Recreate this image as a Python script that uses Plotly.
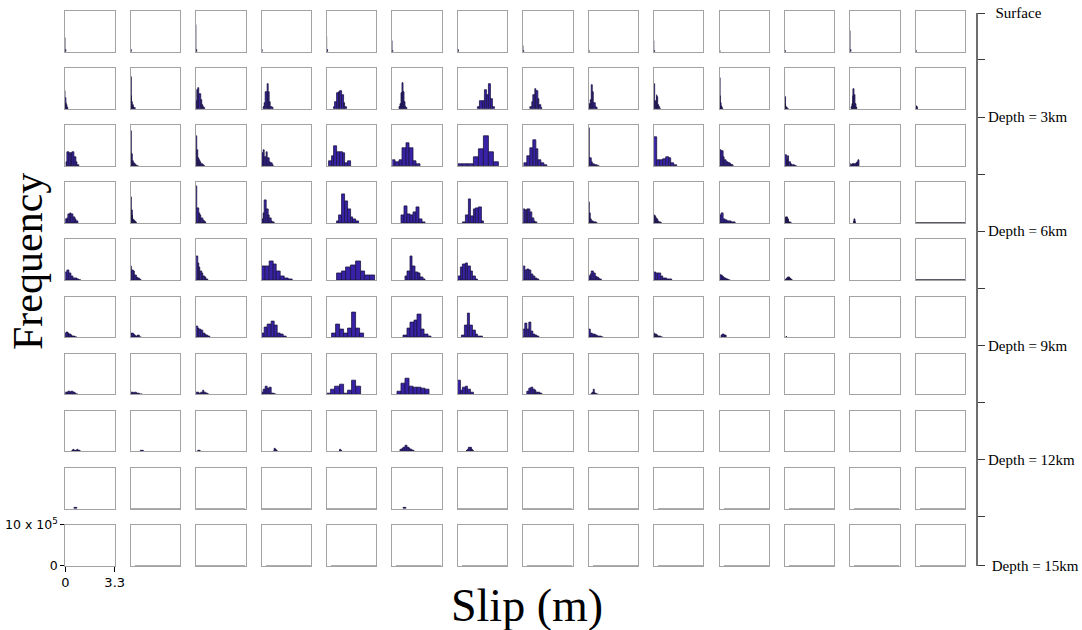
import plotly.graph_objects as go

# ---- slip histograms: one list per depth row, 14 along-strike cells each ----
# each cell: (slip_min_m, slip_max_m, bin counts in units of 1e5) or None
row0 = [
    (0.0, 0.04, [3.3, 0.3]), (0.0, 0.04, [4.1, 0.4]), (0.0, 0.04, [6.6, 0.5]),
    (0.0, 0.04, [6.3, 0.5]), (0.0, 0.04, [3.5, 0.3]), (0.0, 0.04, [2.7, 0.2]),
    (0.0, 0.04, [3.0, 0.3]), (0.0, 0.04, [1.5, 0.1]), (0.0, 0.04, [2.2, 0.2]),
    (0.0, 0.04, [2.7, 0.2]), (0.0, 0.04, [2.7, 0.2]), (0.0, 0.04, [1.5, 0.1]),
    (0.0, 0.04, [5.0, 0.3]), (0.0, 0.04, [2.5, 0.2]),
]
row1 = [
    (0.0, 0.22, [4.3, 2.6, 1.4, 0.8, 0.4, 0.2, 0.1, 0.05]),
    (0.0, 0.36, [7.8, 3.2, 1.6, 0.9, 0.5, 0.2, 0.1, 0.05]),
    (0.0, 0.62, [1.8, 4.6, 5.2, 3.7, 2.2, 1.0, 0.4, 0.1]),
    (0.13, 0.80, [0.3, 1.4, 4.2, 6.1, 4.0, 1.6, 0.5, 0.1]),
    (0.45, 1.34, [0.3, 1.6, 3.8, 4.2, 4.3, 3.4, 1.4, 0.3]),
    (0.45, 0.98, [0.3, 1.2, 3.8, 6.4, 4.0, 1.6, 0.5, 0.1]),
    (1.36, 2.47, [0.3, 1.8, 2.0, 4.5, 3.3, 6.1, 2.5, 0.3]),
    (0.49, 1.27, [0.3, 1.6, 3.4, 4.8, 4.3, 2.4, 0.8, 0.1]),
    (0.0, 0.58, [0.6, 1.2, 2.2, 5.9, 4.0, 1.4, 0.4, 0.1]),
    (0.0, 0.45, [6.0, 2.0, 1.6, 3.3, 2.8, 1.0, 0.3, 0.05]),
    (0.0, 0.27, [7.5, 3.2, 1.4, 0.7, 0.3, 0.15, 0.05, 0.02]),
    (0.0, 0.25, [9.0, 2.8, 1.1, 0.5, 0.25, 0.1, 0.05, 0.02]),
    (0.09, 0.47, [0.3, 1.2, 3.0, 4.8, 3.4, 1.2, 0.3, 0.1]),
    (0.0, 0.16, [0.7, 0.5, 0.3, 0.1]),
]
row2 = [
    (0.04, 0.94, [1.0, 3.3, 3.1, 3.0, 3.3, 2.2, 0.8, 0.2]),
    (0.0, 0.54, [8.5, 2.8, 1.1, 0.6, 0.3, 0.15, 0.05, 0.02]),
    (0.0, 0.58, [7.4, 3.8, 1.9, 1.3, 0.8, 0.4, 0.2, 0.05]),
    (0.0, 0.83, [3.0, 3.9, 2.2, 3.3, 2.0, 1.0, 0.6, 0.2]),
    (0.12, 1.60, [1.1, 2.3, 4.8, 3.3, 3.3, 3.0, 0.7, 1.2]),
    (0.0, 1.85, [1.5, 0.8, 1.5, 4.4, 5.5, 4.4, 1.1, 0.5]),
    (0.0, 2.77, [0.4, 0.4, 0.5, 2.1, 4.0, 7.4, 3.3, 0.9]),
    (0.07, 1.60, [0.6, 2.5, 4.4, 6.2, 4.1, 1.4, 0.7, 0.2]),
    (0.0, 0.76, [9.2, 1.9, 0.9, 0.5, 0.25, 0.1, 0.05, 0.02]),
    (0.0, 1.55, [7.0, 1.3, 1.3, 1.6, 2.2, 1.8, 0.6, 0.2]),
    (0.0, 0.94, [3.9, 3.6, 2.2, 1.4, 0.9, 0.6, 0.3, 0.1]),
    (0.0, 0.80, [2.6, 1.4, 2.5, 1.0, 0.4, 0.2, 0.1, 0.05]),
    (0.0, 0.60, [0.3, 0.2, 0.3, 0.4, 0.5, 0.7, 1.0, 1.4]),
    None,
]
row3 = [
    (0.0, 0.85, [0.8, 1.2, 2.2, 2.5, 2.2, 1.5, 0.8, 0.3]),
    (0.0, 0.42, [6.4, 3.0, 1.8, 1.0, 0.6, 0.3, 0.1, 0.05]),
    (0.0, 0.70, [8.9, 3.5, 2.5, 2.0, 1.2, 0.6, 0.3, 0.1]),
    (0.0, 0.87, [0.8, 2.5, 5.6, 3.3, 1.8, 1.2, 0.5, 0.2]),
    (0.64, 2.13, [0.4, 1.8, 7.0, 5.4, 3.3, 1.5, 0.8, 0.3]),
    (0.57, 2.18, [1.9, 4.0, 2.2, 1.8, 2.7, 3.8, 0.8, 0.25]),
    (0.36, 1.76, [0.15, 1.8, 5.9, 1.6, 3.3, 3.6, 3.9, 0.4]),
    (0.0, 0.94, [3.4, 3.0, 3.4, 3.3, 2.6, 1.2, 0.4, 0.1]),
    (0.0, 0.58, [5.0, 2.5, 1.0, 0.5, 0.3, 0.15, 0.08, 0.03]),
    (0.0, 0.51, [1.9, 1.7, 1.2, 0.8, 0.4, 0.2, 0.1, 0.05]),
    (0.0, 1.05, [2.0, 2.3, 1.0, 0.6, 0.4, 0.3, 0.2, 0.1]),
    (0.0, 0.47, [1.2, 1.5, 1.4, 0.9, 0.4, 0.2, 0.1, 0.05]),
    (0.27, 0.36, [0.1, 0.3, 0.8, 0.5, 0.2, 0.05]),
    (0.0, 3.3, [0.04, 0.03, 0.03, 0.02, 0.03, 0.02, 0.02, 0.03]),
]
row4 = [
    (0.0, 1.10, [1.8, 2.5, 1.6, 0.8, 0.5, 0.3, 0.15, 0.05]),
    (0.0, 0.76, [3.3, 2.5, 2.2, 1.2, 0.6, 0.3, 0.15, 0.05]),
    (0.0, 0.80, [5.9, 4.1, 3.0, 2.2, 1.6, 1.0, 0.6, 0.2]),
    (0.0, 2.07, [3.3, 3.3, 4.7, 3.9, 2.2, 1.0, 0.3, 0.2]),
    (0.65, 3.20, [1.6, 2.2, 3.0, 3.6, 4.7, 2.2, 1.1, 1.1]),
    (0.85, 2.23, [1.0, 2.2, 5.9, 3.3, 1.8, 1.6, 0.6, 0.2]),
    (0.0, 1.36, [1.0, 3.0, 3.9, 4.1, 3.4, 2.2, 0.8, 0.2]),
    (0.0, 1.05, [3.3, 2.5, 2.6, 2.5, 1.4, 0.8, 0.4, 0.2]),
    (0.0, 0.87, [1.0, 1.4, 2.2, 1.6, 1.0, 0.6, 0.3, 0.1]),
    (0.0, 1.18, [2.0, 1.6, 1.6, 0.8, 0.4, 0.3, 0.2, 0.1]),
    (0.0, 0.71, [1.4, 1.2, 1.0, 0.6, 0.4, 0.2, 0.1, 0.05]),
    (0.07, 0.54, [0.1, 0.3, 0.6, 0.7, 0.5, 0.3, 0.1, 0.05]),
    None,
    (0.0, 3.3, [0.03, 0.04, 0.02, 0.03, 0.03, 0.02, 0.03, 0.02]),
]
row5 = [
    (0.0, 0.78, [0.8, 1.2, 0.9, 0.7, 0.3, 0.2, 0.1, 0.05]),
    (0.0, 0.71, [1.0, 0.8, 0.6, 0.3, 0.25, 0.5, 0.3, 0.05]),
    (0.0, 0.91, [2.6, 2.2, 2.0, 1.6, 1.0, 0.6, 0.3, 0.1]),
    (0.0, 1.70, [0.8, 2.3, 3.0, 3.9, 2.9, 1.0, 0.7, 0.2]),
    (0.31, 2.50, [1.0, 3.0, 1.8, 1.0, 2.2, 6.1, 2.2, 0.8]),
    (0.75, 2.62, [0.3, 2.2, 3.7, 4.1, 5.5, 2.0, 0.6, 0.2]),
    (0.29, 1.70, [0.4, 2.9, 5.9, 2.9, 1.6, 0.7, 0.25, 0.25]),
    (0.0, 1.05, [1.8, 3.3, 1.8, 3.5, 1.5, 0.6, 0.4, 0.2]),
    (0.0, 0.98, [1.8, 1.0, 0.6, 0.7, 0.4, 0.25, 0.15, 0.05]),
    (0.0, 0.58, [0.8, 0.7, 0.6, 0.4, 0.25, 0.15, 0.05, 0.02]),
    (0.16, 0.45, [0.3, 0.6, 0.5, 0.3]),
    (0.05, 0.15, [0.05, 0.1]),
    (0.0, 3.3, [0.02, 0.03, 0.02, 0.02, 0.03, 0.02, 0.02, 0.02]),
    (0.5, 3.3, [0.04, 0.03, 0.03, 0.04, 0.03, 0.03, 0.02, 0.03]),
]
row6 = [
    (0.0, 0.85, [0.3, 0.5, 0.6, 0.4, 0.6, 0.4, 0.2, 0.05]),
    (0.0, 0.80, [0.3, 0.3, 0.2, 0.3, 0.2, 0.1, 0.05, 0.02]),
    (0.0, 0.90, [0.3, 0.3, 0.2, 0.4, 0.8, 0.5, 0.2, 0.05]),
    (0.0, 1.03, [0.3, 1.1, 1.8, 1.3, 1.6, 0.2, 0.1, 0.05]),
    (0.0, 2.24, [0.25, 1.1, 2.0, 2.3, 0.25, 0.9, 3.3, 2.0]),
    (0.31, 2.46, [0.65, 2.7, 3.8, 2.0, 1.7, 1.6, 1.4, 1.1]),
    (0.0, 1.05, [3.4, 1.0, 1.6, 2.0, 1.2, 0.3]),
    (0.27, 1.27, [0.6, 1.4, 1.6, 1.1, 0.8, 0.5, 0.3, 0.1]),
    (0.2, 0.65, [0.2, 0.4, 1.1, 0.4, 0.2, 0.1, 0.05, 0.02]),
    (0.0, 0.10, [0.05, 0.03]),
    (0.0, 0.70, [0.04, 0.05, 0.04, 0.03]),
    None,
    None,
    None,
]
row7 = [
    (0.45, 1.10, [0.15, 0.3, 0.25, 0.2, 0.3, 0.2, 0.1, 0.05]),
    (0.70, 0.90, [0.1, 0.15, 0.1, 0.05]),
    (0.15, 0.35, [0.1, 0.25, 0.15, 0.05]),
    (0.85, 1.05, [0.2, 0.7, 0.3, 0.1]),
    (0.85, 1.00, [0.2, 0.5, 0.2]),
    (0.53, 1.47, [0.3, 0.6, 0.9, 1.5, 0.8, 0.6, 0.3, 0.1]),
    (0.58, 1.10, [0.2, 0.5, 1.0, 0.8, 0.3, 0.1]),
    None,
    (0.0, 3.3, [0.02, 0.02, 0.03, 0.02, 0.02, 0.02, 0.02, 0.02]),
    (0.0, 3.3, [0.03, 0.02, 0.02, 0.02, 0.03, 0.02, 0.02, 0.02]),
    (0.0, 3.3, [0.02, 0.02, 0.02, 0.03, 0.02, 0.02, 0.02, 0.02]),
    (0.3, 3.3, [0.03, 0.03, 0.02, 0.02, 0.02, 0.03, 0.02, 0.02]),
    (0.0, 3.3, [0.02, 0.03, 0.02, 0.02, 0.02, 0.02, 0.03, 0.02]),
    (0.0, 3.3, [0.02, 0.02, 0.02, 0.02, 0.02, 0.02, 0.02, 0.03]),
]
row8 = [
    (0.60, 0.80, [0.1, 0.2, 0.1]),
    (0.0, 3.3, [0.02, 0.02, 0.03, 0.02, 0.02, 0.02, 0.02, 0.02]),
    (0.0, 3.3, [0.02, 0.03, 0.02, 0.02, 0.02, 0.02, 0.02, 0.02]),
    (0.0, 3.3, [0.02, 0.02, 0.02, 0.02, 0.03, 0.02, 0.02, 0.02]),
    (0.0, 3.3, [0.02, 0.02, 0.02, 0.02, 0.02, 0.02, 0.03, 0.02]),
    (0.75, 0.95, [0.1, 0.25, 0.1]),
    (0.0, 3.3, [0.02, 0.02, 0.02, 0.03, 0.02, 0.02, 0.02, 0.02]),
    (0.0, 3.3, [0.02, 0.02, 0.02, 0.02, 0.02, 0.03, 0.02, 0.02]),
    (0.0, 3.3, [0.03, 0.02, 0.02, 0.02, 0.02, 0.02, 0.02, 0.02]),
    (0.3, 3.3, [0.02, 0.02, 0.02, 0.02, 0.02, 0.02, 0.02, 0.03]),
    (0.3, 3.3, [0.02, 0.03, 0.02, 0.02, 0.02, 0.02, 0.02, 0.02]),
    (0.3, 3.3, [0.02, 0.02, 0.03, 0.02, 0.02, 0.02, 0.02, 0.02]),
    (0.3, 3.3, [0.02, 0.02, 0.02, 0.02, 0.03, 0.02, 0.02, 0.02]),
    (0.3, 3.3, [0.02, 0.02, 0.02, 0.02, 0.02, 0.03, 0.02, 0.02]),
]
row9 = [
    None,
    (0.3, 3.3, [0.02, 0.02, 0.02, 0.03, 0.02, 0.02, 0.02, 0.02]),
    (0.0, 3.3, [0.02, 0.02, 0.03, 0.02, 0.02, 0.02, 0.02, 0.02]),
    (0.3, 3.3, [0.02, 0.02, 0.02, 0.02, 0.02, 0.03, 0.02, 0.02]),
    (0.3, 3.3, [0.02, 0.03, 0.02, 0.02, 0.02, 0.02, 0.02, 0.02]),
    (0.3, 3.3, [0.02, 0.02, 0.02, 0.02, 0.03, 0.02, 0.02, 0.02]),
    (0.3, 3.3, [0.03, 0.02, 0.02, 0.02, 0.02, 0.02, 0.02, 0.02]),
    (0.3, 3.3, [0.02, 0.02, 0.02, 0.02, 0.02, 0.02, 0.03, 0.02]),
    (0.3, 3.3, [0.02, 0.02, 0.03, 0.02, 0.02, 0.02, 0.02, 0.02]),
    (0.3, 3.3, [0.02, 0.02, 0.02, 0.03, 0.02, 0.02, 0.02, 0.02]),
    (0.3, 3.3, [0.02, 0.02, 0.02, 0.02, 0.02, 0.02, 0.02, 0.03]),
    (0.3, 3.3, [0.02, 0.03, 0.02, 0.02, 0.02, 0.02, 0.02, 0.02]),
    (0.3, 3.3, [0.02, 0.02, 0.02, 0.02, 0.03, 0.02, 0.02, 0.02]),
    (0.3, 3.3, [0.02, 0.02, 0.02, 0.02, 0.02, 0.03, 0.02, 0.02]),
]
depth_rows = [row0, row1, row2, row3, row4, row5, row6, row7, row8, row9]

depth_labels = ["\u00a0\u00a0Surface", "Depth = 3km", "Depth = 6km",
                "Depth = 9km", "Depth = 12km", "\u00a0Depth = 15km"]
slip_tick_labels = ["0", "3.3"]
freq_tick_labels = ["0", "10 x 10<sup>5</sup>"]

SLIP_MAX = 3.3      # m
FREQ_MAX = 10       # x 1e5

# ---- page geometry (pixels) ----
W, H = 1082, 630
X0, DX, CW = 65.3, 65.42, 49.4
Y0, DY, CH = 11.0, 57.1, 40.7
N_COLS = 14

FILL = "#3a22a8"
EDGE = "#1b1640"
FLOOR = "#5a5a66"
FRAME = "#a3a3a3"

fig = go.Figure()
layout = {}

for r, row in enumerate(depth_rows):
    for c, cell in enumerate(row):
        k = r * N_COLS + c + 1
        sfx = "" if k == 1 else str(k)
        xa, ya = "x" + sfx, "y" + sfx
        left = X0 + c * DX
        top = Y0 + r * DY
        corner = (r == len(depth_rows) - 1 and c == 0)

        xaxis = dict(domain=[left / W, (left + CW) / W], range=[0, SLIP_MAX],
                     anchor=ya, showline=True, mirror=True, linecolor=FRAME,
                     linewidth=1, showgrid=False, zeroline=False, automargin=False,
                     showticklabels=False, ticks="", fixedrange=True)
        yaxis = dict(domain=[1 - (top + CH) / H, 1 - top / H], range=[0, FREQ_MAX],
                     anchor=xa, showline=True, mirror=True, linecolor=FRAME,
                     linewidth=1, showgrid=False, zeroline=False, automargin=False,
                     showticklabels=False, ticks="", fixedrange=True)
        if corner:
            xaxis.update(tickmode="array", tickvals=[0, SLIP_MAX],
                         ticktext=slip_tick_labels, showticklabels=True,
                         ticks="outside", ticklen=5, tickcolor="#000",
                         tickfont=dict(family="DejaVu Sans", size=13, color="#000"))
            yaxis.update(tickmode="array", tickvals=[0, FREQ_MAX],
                         ticktext=freq_tick_labels, showticklabels=True,
                         ticks="outside", ticklen=4, tickcolor="#000",
                         tickfont=dict(family="DejaVu Sans", size=12.5, color="#000"))
        layout["xaxis" + sfx] = xaxis
        layout["yaxis" + sfx] = yaxis

        if cell is None:
            fig.add_trace(go.Scatter(x=[None], y=[None], xaxis=xa, yaxis=ya,
                                     showlegend=False, hoverinfo="skip"))
            continue
        lo, hi, counts = cell
        w = (hi - lo) / len(counts)
        centers = [lo + (i + 0.5) * w for i in range(len(counts))]
        # near-empty histograms only show as a dark floor line
        flat = max(counts) < 0.1
        marker = (dict(color=FLOOR, line=dict(width=0)) if flat else
                  dict(color=FILL, line=dict(color=EDGE, width=0.8)))
        fig.add_trace(go.Bar(x=centers, y=counts, width=w, xaxis=xa, yaxis=ya,
                             marker=marker, showlegend=False, hoverinfo="skip"))

# ---- depth scale on the right: labelled ticks plus ticks between the rows ----
n_rows = len(depth_rows)
depth_top = 13.0
depth_bottom = Y0 + (n_rows - 1) * DY + CH
gap_pos = [Y0 + i * DY + CH + (DY - CH) / 2 for i in range(n_rows - 1)]
label_pos = [depth_top] + gap_pos[1::2] + [depth_bottom]
minor_pos = gap_pos[0::2]
kd = len(depth_rows) * N_COLS + 1
AXIS_X = 976.0
layout["xaxis%d" % kd] = dict(domain=[(AXIS_X - 2) / W, AXIS_X / W], range=[0, 1],
                              anchor="y%d" % kd, visible=False, fixedrange=True,
                              automargin=False)
layout["yaxis%d" % kd] = dict(domain=[1 - depth_bottom / H, 1 - depth_top / H],
                              range=[depth_bottom, depth_top], anchor="x%d" % kd,
                              side="right", showline=True, linecolor="#6e6e6e",
                              linewidth=2, showgrid=False, zeroline=False,
                              automargin=False,
                              tickmode="array", tickvals=label_pos, ticktext=depth_labels,
                              ticks="outside", ticklen=7, tickwidth=1.3,
                              tickcolor="#3a3a3a", fixedrange=True,
                              minor=dict(tickvals=minor_pos, ticks="outside", ticklen=7,
                                         tickwidth=1.3, tickcolor="#3a3a3a"),
                              tickfont=dict(family="Liberation Serif", size=15, color="#000"))
fig.add_trace(go.Scatter(x=[None], y=[None], xaxis="x%d" % kd, yaxis="y%d" % kd,
                         showlegend=False, hoverinfo="skip"))

fig.update_layout(
    width=W, height=H,
    margin=dict(l=0, r=0, t=0, b=0, autoexpand=False),
    paper_bgcolor="white", plot_bgcolor="white",
    showlegend=False,
    bargap=0,
    annotations=[
        dict(text="Frequency", x=28 / W, y=1 - 262 / H, xref="paper", yref="paper",
             textangle=-90, showarrow=False, xanchor="center", yanchor="middle",
             font=dict(family="Liberation Serif", size=42, color="#000")),
        dict(text="Slip (m)", x=527 / W, y=1 - 605 / H, xref="paper", yref="paper",
             showarrow=False, xanchor="center", yanchor="middle",
             font=dict(family="Liberation Serif", size=46, color="#000")),
    ],
    **layout,
)

fig.write_html("out.html", config={"displayModeBar": False})
